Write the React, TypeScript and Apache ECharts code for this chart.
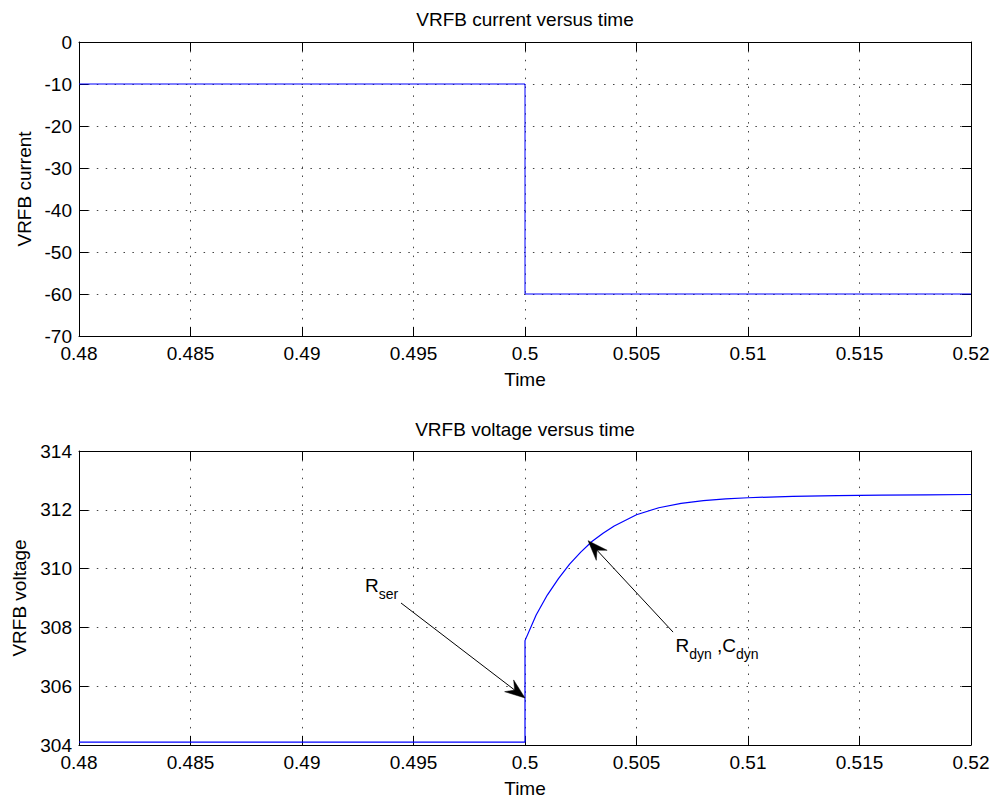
import React, { useEffect, useRef } from "react";
import * as echarts from "echarts";

// ---- data ----
const xTicks = [0.48, 0.485, 0.49, 0.495, 0.5, 0.505, 0.51, 0.515, 0.52];
const currentTicks = [-70, -60, -50, -40, -30, -20, -10, 0];
const voltageTicks = [304, 306, 308, 310, 312, 314];

const currentTime = [0.48, 0.5, 0.5, 0.52];
const currentValues = [-10, -10, -60, -60];

const voltageTime = [
  0.48, 0.5, 0.5, 0.5005, 0.501, 0.5015, 0.502, 0.5025, 0.503, 0.5035, 0.504,
  0.505, 0.506, 0.507, 0.508, 0.509, 0.51, 0.512, 0.514, 0.516, 0.518, 0.52,
];
const voltageValues = [
  304.1, 304.1, 307.55, 308.42, 309.1, 309.66, 310.15, 310.56, 310.92, 311.2,
  311.45, 311.83, 312.07, 312.22, 312.31, 312.37, 312.41, 312.46, 312.48,
  312.5, 312.51, 312.52,
];

// annotation anchors (data coordinates of the lower subplot)
const annotationTips = [
  [0.5, 305.6],
  [0.50283, 310.95],
];
const annotationTails = [
  [0.49444, 308.83],
  [0.50664, 307.84],
];
const annotationTextAt = [
  [0.492825, 309.2],
  [0.506749, 307.15],
];
const annotationParts = [
  [
    { text: "R", sub: false },
    { text: "ser", sub: true },
  ],
  [
    { text: "R", sub: false },
    { text: "dyn", sub: true },
    { text: " ,C", sub: false },
    { text: "dyn", sub: true },
  ],
];

const FONT = "'Liberation Sans', Arial, Helvetica, sans-serif";
const FS = 19;
const SUB_FS = 14;
const GRID_COLOR = "#444";

const round = (v: number) => +v.toFixed(6);

function xAxisCfg(gridIndex: number, top: boolean, name?: string) {
  return {
    type: "value",
    gridIndex,
    position: top ? "top" : "bottom",
    min: xTicks[0],
    max: xTicks[xTicks.length - 1],
    interval: round(xTicks[1] - xTicks[0]),
    name: top ? undefined : name,
    nameLocation: "middle",
    nameGap: 34,
    nameTextStyle: { color: "#000", fontSize: FS, fontFamily: FONT },
    axisLine: { show: true, onZero: false, lineStyle: { color: "#000", width: 1 } },
    axisTick: { show: true, inside: true, length: 9, lineStyle: { color: "#000", width: 1 } },
    axisLabel: {
      show: !top,
      margin: 8,
      color: "#000",
      fontSize: FS,
      fontFamily: FONT,
      formatter: (v: number) => String(+v.toFixed(4)),
    },
    splitLine: top
      ? { show: false }
      : { show: true, lineStyle: { color: GRID_COLOR, width: 1, type: [1.5, 7.4] } },
  };
}

function yAxisCfg(gridIndex: number, right: boolean, ticks: number[], name?: string) {
  return {
    type: "value",
    gridIndex,
    position: right ? "right" : "left",
    min: ticks[0],
    max: ticks[ticks.length - 1],
    interval: ticks[1] - ticks[0],
    name: right ? undefined : name,
    nameLocation: "middle",
    nameGap: 45,
    nameTextStyle: { color: "#000", fontSize: FS, fontFamily: FONT },
    axisLine: { show: true, onZero: false, lineStyle: { color: "#000", width: 1 } },
    axisTick: { show: true, inside: true, length: 9, lineStyle: { color: "#000", width: 1 } },
    axisLabel: {
      show: !right,
      margin: 7,
      color: "#000",
      fontSize: FS,
      fontFamily: FONT,
    },
    splitLine: right
      ? { show: false }
      : { show: true, lineStyle: { color: GRID_COLOR, width: 1, type: [1.5, 7.4] } },
  };
}

export default function App() {
  const ref = useRef<HTMLDivElement>(null);

  useEffect(() => {
    if (!ref.current) return;
    const chart = echarts.init(ref.current, undefined, { renderer: "svg" });

    const option: any = {
      animation: false,
      backgroundColor: "#fff",
      grid: [
        { left: 79, top: 42, width: 892, height: 294 },
        { left: 79, top: 451, width: 892, height: 294 },
      ],
      xAxis: [
        xAxisCfg(0, false, "Time"),
        xAxisCfg(0, true),
        xAxisCfg(1, false, "Time"),
        xAxisCfg(1, true),
      ],
      yAxis: [
        yAxisCfg(0, false, currentTicks, "VRFB current"),
        yAxisCfg(0, true, currentTicks),
        yAxisCfg(1, false, voltageTicks, "VRFB voltage"),
        yAxisCfg(1, true, voltageTicks),
      ],
      series: [
        {
          type: "line",
          xAxisIndex: 0,
          yAxisIndex: 0,
          data: currentTime.map((t, i) => [t, currentValues[i]]),
          showSymbol: false,
          lineStyle: { color: "#0000ff", width: 1 },
          itemStyle: { color: "#0000ff" },
          z: 5,
        },
        {
          type: "line",
          xAxisIndex: 2,
          yAxisIndex: 2,
          data: voltageTime.map((t, i) => [t, voltageValues[i]]),
          showSymbol: false,
          lineStyle: { color: "#0000ff", width: 1.2 },
          itemStyle: { color: "#0000ff" },
          z: 5,
        },
      ],
    };
    chart.setOption(option);

    const graphics: any[] = [
      {
        type: "text",
        x: 525,
        y: 19,
        style: {
          text: "VRFB current versus time",
          fill: "#000",
          font: `${FS}px ${FONT}`,
          align: "center",
          verticalAlign: "middle",
        },
      },
      {
        type: "text",
        x: 525,
        y: 429,
        style: {
          text: "VRFB voltage versus time",
          fill: "#000",
          font: `${FS}px ${FONT}`,
          align: "center",
          verticalAlign: "middle",
        },
      },
    ];

    const finder = { xAxisIndex: 2, yAxisIndex: 2 };
    annotationTips.forEach((tipD, i) => {
      const tip = chart.convertToPixel(finder, tipD) as number[];
      const tail = chart.convertToPixel(finder, annotationTails[i]) as number[];
      const dx = tip[0] - tail[0];
      const dy = tip[1] - tail[1];
      const len = Math.hypot(dx, dy);
      const ux = dx / len;
      const uy = dy / len;
      const nx = -uy;
      const ny = ux;
      const L = 20;
      const W = 7.4;
      const notch = 7;
      const back = [tip[0] - ux * L, tip[1] - uy * L];
      const mid = [tip[0] - ux * (L - notch), tip[1] - uy * (L - notch)];
      graphics.push({
        type: "line",
        shape: { x1: tail[0], y1: tail[1], x2: mid[0], y2: mid[1] },
        style: { stroke: "#000", lineWidth: 1 },
        z: 10,
      });
      graphics.push({
        type: "polygon",
        shape: {
          points: [
            [tip[0], tip[1]],
            [back[0] + nx * W, back[1] + ny * W],
            [mid[0], mid[1]],
            [back[0] - nx * W, back[1] - ny * W],
          ],
        },
        style: { fill: "#000", stroke: "#000", lineWidth: 0.5 },
        z: 10,
      });

      // text with subscripts
      const at = chart.convertToPixel(finder, annotationTextAt[i]) as number[];
      let cx = at[0];
      annotationParts[i].forEach((p) => {
        const fs = p.sub ? SUB_FS : FS;
        const baseline = at[1] + (p.sub ? 6.5 : 0);
        const font = `${fs}px ${FONT}`;
        graphics.push({
          type: "text",
          x: cx,
          y: baseline - 0.35 * fs,
          style: {
            text: p.text,
            fill: "#000",
            font,
            align: "left",
            verticalAlign: "middle",
          },
          z: 10,
        });
        const w = (echarts.format as any).getTextRect
          ? (echarts.format as any).getTextRect(p.text, font).width
          : p.text.length * fs * 0.55;
        cx += w;
      });
    });

    chart.setOption({ graphic: graphics });

    return () => chart.dispose();
  }, []);

  return (
    <div
      ref={ref}
      style={{ position: "fixed", left: 0, top: 0, width: 996, height: 800, background: "#fff" }}
    />
  );
}
